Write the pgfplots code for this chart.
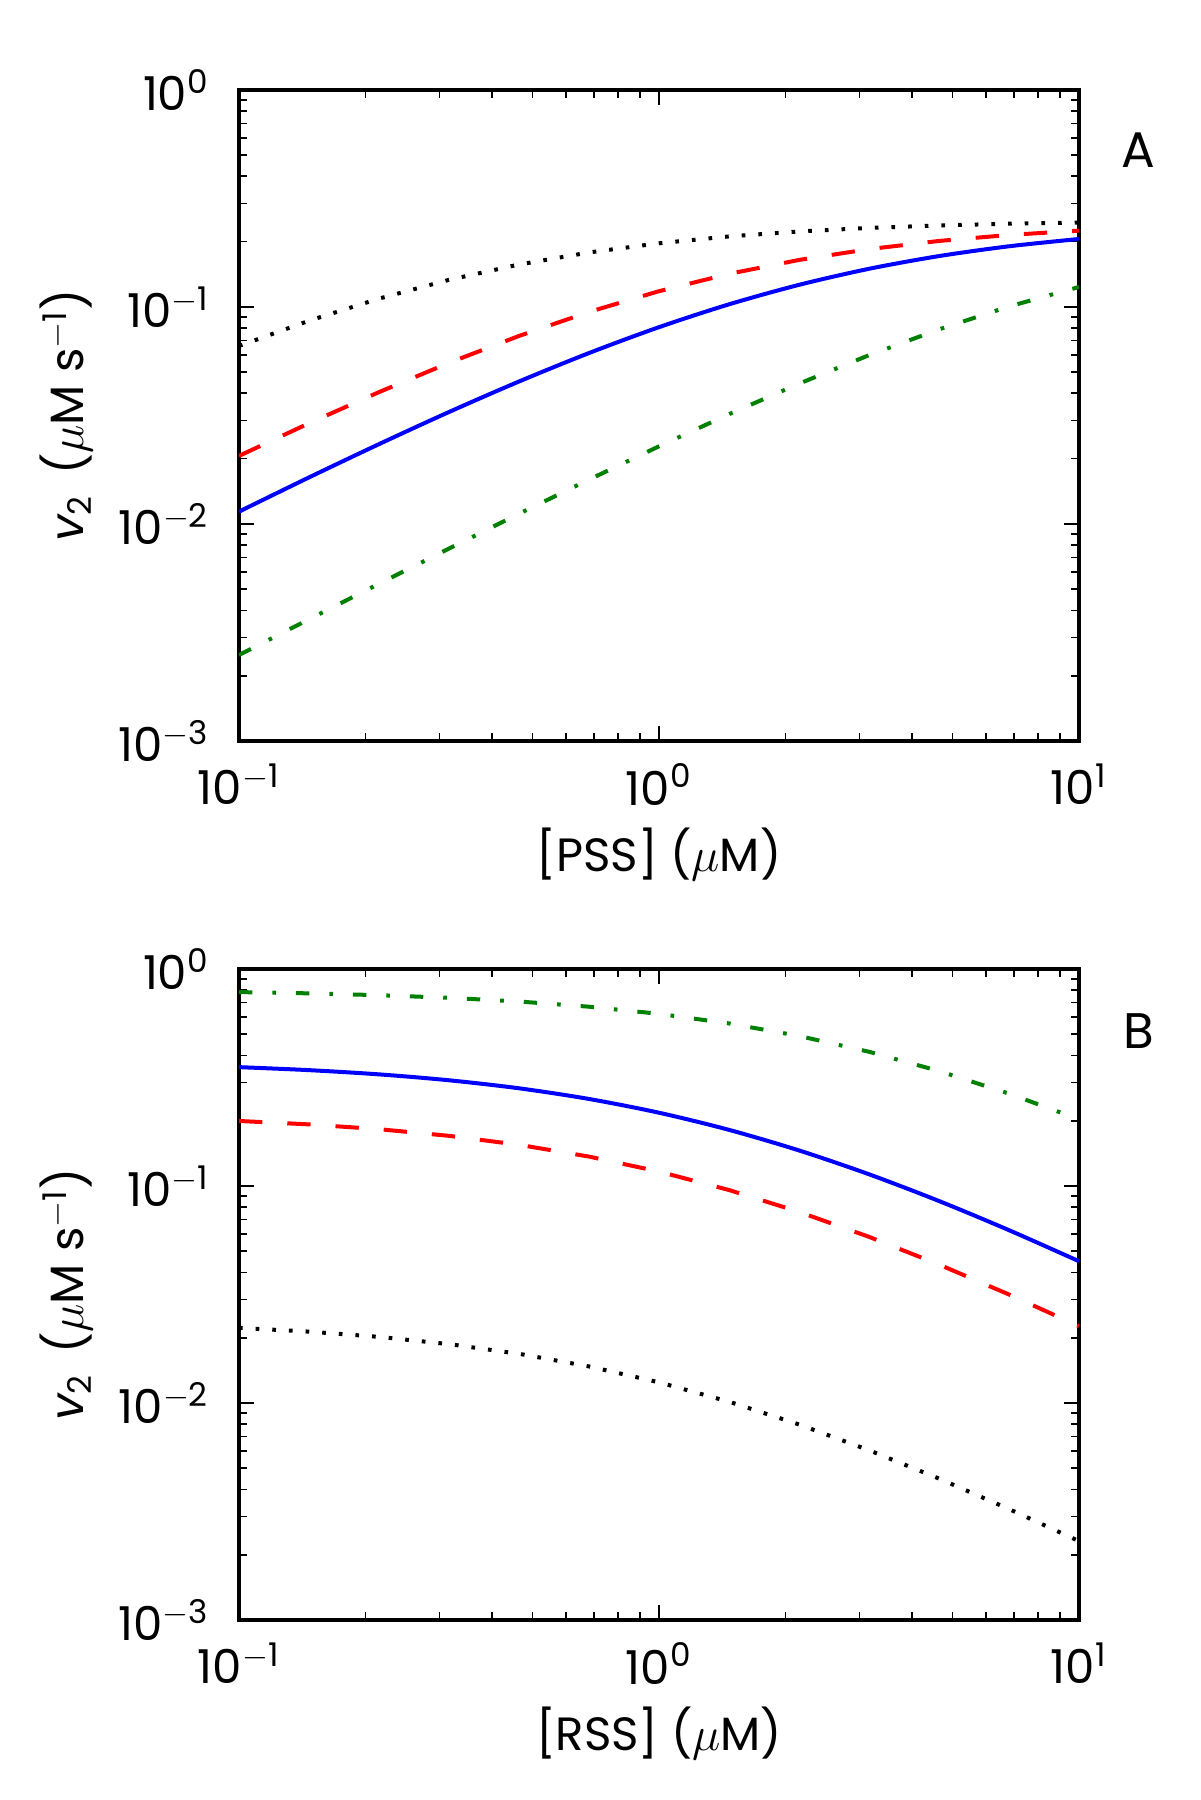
\documentclass[border=0pt]{standalone}
\usepackage{fontspec}
\setmainfont{Poppins}
\usepackage{pgfplots}
\pgfplotsset{compat=1.18}
\definecolor{mplgreen}{rgb}{0,0.5,0}
\tikzset{
  ldot/.style={black, line width=1.2pt, dash pattern=on 1.1pt off 3.9pt},
  ldash/.style={red, line width=1.2pt, dash pattern=on 7pt off 7.5pt},
  lsolid/.style={blue, line width=1.2pt},
  ldashdot/.style={mplgreen, line width=1.2pt, dash pattern=on 4pt off 6pt on 1.1pt off 6pt},
}
\begin{document}
\fontsize{14pt}{16pt}\selectfont
\begin{tikzpicture}
\path[use as bounding box] (0,0) rectangle (360pt,540pt);
% Panel A
\begin{axis}[at={(71.7pt,317.7pt)}, anchor=south west, clip mode=individual,
    xmode=log, ymode=log,
    scale only axis, width=252pt, height=195.3pt,
    xmin=0.1, xmax=10, ymin=1e-3, ymax=1,
    xtick={0.1,1,10},
    xticklabels={10\textsuperscript{$-$1},10\textsuperscript{0},10\textsuperscript{1}},
    ytick={0.001,0.01,0.1,1},
    yticklabels={10\textsuperscript{$-$3},10\textsuperscript{$-$2},10\textsuperscript{$-$1},10\textsuperscript{0}},
    minor xtick={0.2,0.3,0.4,0.5,0.6,0.7,0.8,0.9,2,3,4,5,6,7,8,9},
    minor ytick={0.002,0.003,0.004,0.005,0.006,0.007,0.008,0.009,0.02,0.03,0.04,0.05,0.06,0.07,0.08,0.09,0.2,0.3,0.4,0.5,0.6,0.7,0.8,0.9},
    tick align=inside,
    major tick length=4.5pt, minor tick length=2.3pt,
    major tick style={line width=0.6pt, black},
    minor tick style={line width=0.5pt, black},
    axis line style={line width=1.2pt},
    yticklabel style={xshift=-4pt},
    xticklabel style={yshift=-2pt},
    xlabel style={at={(axis description cs:0.5,-0.174)}, anchor=center},
    ylabel style={at={(axis description cs:-0.205,0.5)}, anchor=center},
    ylabel={{\itshape v}\textsubscript{2} \,($\mu$M s\textsuperscript{$-$1})},
    xlabel={[PSS] ($\mu$M)}]
\addplot[ldot] coordinates {(0.1,0.06610) (0.14678,0.08641) (0.21544,0.10930) (0.31623,0.13336) (0.46416,0.15689) (0.68129,0.17832) (1,0.19663) (1.4678,0.21141) (2.1544,0.22283) (3.1623,0.23134) (4.6416,0.23752) (6.8129,0.24192) (10,0.24501)};
\addplot[ldash] coordinates {(0.1,0.02060) (0.14678,0.02911) (0.21544,0.04052) (0.31623,0.05528) (0.46416,0.07353) (0.68129,0.09487) (1,0.11824) (1.4678,0.14209) (2.1544,0.16472) (3.1623,0.18478) (4.6416,0.20150) (6.8129,0.21473) (10,0.22479)};
\addplot[lsolid, smooth] coordinates {(0.1,0.01140) (0.14678,0.01639) (0.21544,0.02333) (0.31623,0.03281) (0.46416,0.04535) (0.68129,0.06133) (1,0.08071) (1.4678,0.10284) (2.1544,0.12646) (3.1623,0.14993) (4.6416,0.17163) (6.8129,0.19040) (10,0.20573)};
\addplot[ldashdot] coordinates {(0.1,0.002490) (0.14678,0.003638) (0.21544,0.005302) (0.31623,0.007704) (0.46416,0.011143) (0.68129,0.016012) (1,0.022800) (1.4678,0.032058) (2.1544,0.044320) (3.1623,0.059939) (4.6416,0.078877) (6.8129,0.10051) (10,0.12361)};
\node[font=\fontsize{15pt}{17pt}\selectfont] at (axis description cs:1.071,0.908) {A};
\end{axis}
% Panel B
\begin{axis}[at={(71.7pt,54pt)}, anchor=south west, clip mode=individual,
    xmode=log, ymode=log,
    scale only axis, width=252pt, height=195.3pt,
    xmin=0.1, xmax=10, ymin=1e-3, ymax=1,
    xtick={0.1,1,10},
    xticklabels={10\textsuperscript{$-$1},10\textsuperscript{0},10\textsuperscript{1}},
    ytick={0.001,0.01,0.1,1},
    yticklabels={10\textsuperscript{$-$3},10\textsuperscript{$-$2},10\textsuperscript{$-$1},10\textsuperscript{0}},
    minor xtick={0.2,0.3,0.4,0.5,0.6,0.7,0.8,0.9,2,3,4,5,6,7,8,9},
    minor ytick={0.002,0.003,0.004,0.005,0.006,0.007,0.008,0.009,0.02,0.03,0.04,0.05,0.06,0.07,0.08,0.09,0.2,0.3,0.4,0.5,0.6,0.7,0.8,0.9},
    tick align=inside,
    major tick length=4.5pt, minor tick length=2.3pt,
    major tick style={line width=0.6pt, black},
    minor tick style={line width=0.5pt, black},
    axis line style={line width=1.2pt},
    yticklabel style={xshift=-4pt},
    xticklabel style={yshift=-2pt},
    xlabel style={at={(axis description cs:0.5,-0.174)}, anchor=center},
    ylabel style={at={(axis description cs:-0.205,0.5)}, anchor=center},
    ylabel={{\itshape v}\textsubscript{2} \,($\mu$M s\textsuperscript{$-$1})},
    xlabel={[RSS] ($\mu$M)}]
\addplot[ldashdot] coordinates {(0.1,0.78274) (0.14678,0.77232) (0.21544,0.75753) (0.31623,0.73677) (0.46416,0.70829) (0.68129,0.67029) (1,0.62135) (1.4678,0.56120) (2.1544,0.49139) (3.1623,0.41551) (4.6416,0.33874) (6.8129,0.26648) (10,0.20293)};
\addplot[lsolid, smooth] coordinates {(0.1,0.35298) (0.14678,0.34192) (0.21544,0.32690) (0.31623,0.30708) (0.46416,0.28199) (0.68129,0.25180) (1,0.21760) (1.4678,0.18143) (2.1544,0.14585) (3.1623,0.11324) (4.6416,0.08527) (6.8129,0.06258) (10,0.04500)};
\addplot[ldash] coordinates {(0.1,0.19939) (0.14678,0.19228) (0.21544,0.18272) (0.31623,0.17029) (0.46416,0.15484) (0.68129,0.13663) (1,0.11652) (1.4678,0.09582) (2.1544,0.07601) (3.1623,0.05830) (4.6416,0.04345) (6.8129,0.03163) (10,0.02260)};
\addplot[ldot] coordinates {(0.1,0.022196) (0.14678,0.021328) (0.21544,0.020171) (0.31623,0.018683) (0.46416,0.016858) (0.68129,0.014744) (1,0.012451) (1.4678,0.010138) (2.1544,0.007966) (3.1623,0.006060) (4.6416,0.004485) (6.8129,0.003246) (10,0.002310)};
\node[font=\fontsize{15pt}{17pt}\selectfont] at (axis description cs:1.071,0.905) {B};
\end{axis}
\end{tikzpicture}
\end{document}
